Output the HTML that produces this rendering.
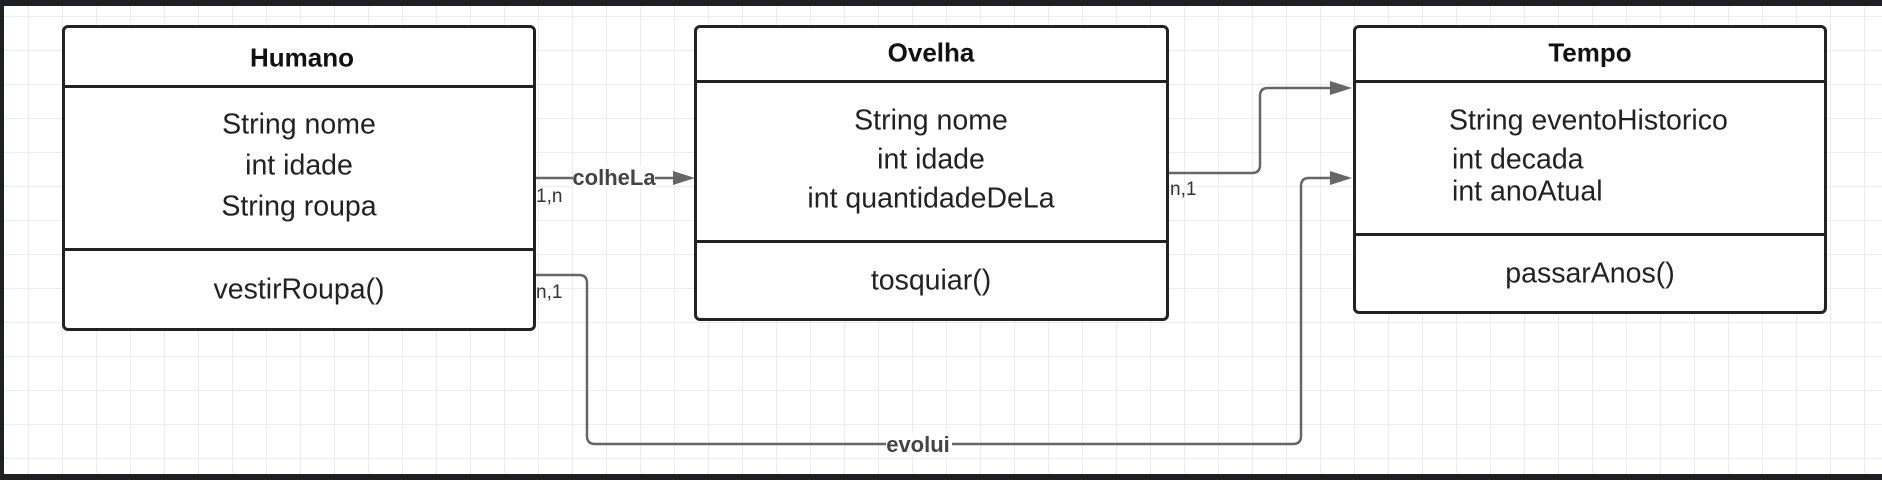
<!DOCTYPE html>
<html><head><meta charset="utf-8"><style>
html,body{margin:0;padding:0;}
body{width:1882px;height:480px;overflow:hidden;background:#1f2023;position:relative;font-family:"Liberation Sans",sans-serif;}
.canvas{position:absolute;left:4px;top:6px;width:1878px;height:468px;background-color:#fff;
background-image:linear-gradient(#ececec 1px,transparent 1px),linear-gradient(90deg,#ececec 1px,transparent 1px);
background-size:34px 34px;background-position:-10px 10px;}
.box{position:absolute;border:3px solid #222;border-radius:6px;background:#fff;box-sizing:border-box;}
.hl{position:absolute;left:0;right:0;border-top:3px solid #222;}
.t{position:absolute;white-space:nowrap;color:#222;font-size:28.5px;transform:translate(-50%,-50%);}
.b{font-weight:bold;font-size:26px;color:#111;}
.l{transform:translate(0,-50%);}
.s{position:absolute;white-space:nowrap;color:#333;font-size:19px;transform:translate(0,-50%);}
</style></head><body>
<div class="canvas"></div>
<svg width="1882" height="480" style="position:absolute;left:0;top:0">
<g fill="none" stroke="#666" stroke-width="2.5">
<path d="M535 178 H683"/>
<path d="M1168 173 H1252 Q1260 173 1260 165 V96 Q1260 88 1268 88 H1338"/>
<path d="M535 275 H579 Q587 275 587 283 V436 Q587 444 595 444 H1293 Q1301 444 1301 436 V186 Q1301 178 1309 178 H1338"/>
</g>
<g fill="#666">
<polygon points="695,178 673,171 673,185"/>
<polygon points="1352,88 1330,81 1330,95"/>
<polygon points="1352,178 1330,171 1330,185"/>
</g>
<rect x="573" y="166" width="82" height="22" fill="#fff"/>
<rect x="886" y="433" width="66" height="22" fill="#fff"/>
</svg>
<div class="t b" style="left:614px;top:178px;font-size:22px;color:#444">colheLa</div>
<div class="t b" style="left:918px;top:445px;font-size:22px;color:#444">evolui</div>
<div class="s" style="left:536px;top:197px">1,n</div>
<div class="s" style="left:536px;top:293px">n,1</div>
<div class="s" style="left:1170px;top:190px">n,1</div>

<div class="box" style="left:62px;top:25px;width:474px;height:306px">
<div class="hl" style="top:57px"></div><div class="hl" style="top:220px"></div></div>
<div class="t b" style="left:302px;top:58px">Humano</div>
<div class="t" style="left:299px;top:125px">String nome</div>
<div class="t" style="left:299px;top:166px">int idade</div>
<div class="t" style="left:299px;top:207px">String roupa</div>
<div class="t" style="left:299px;top:290px">vestirRoupa()</div>

<div class="box" style="left:694px;top:25px;width:475px;height:296px">
<div class="hl" style="top:52px"></div><div class="hl" style="top:212px"></div></div>
<div class="t b" style="left:931px;top:53px">Ovelha</div>
<div class="t" style="left:931px;top:121px">String nome</div>
<div class="t" style="left:931px;top:160px">int idade</div>
<div class="t" style="left:931px;top:199px">int quantidadeDeLa</div>
<div class="t" style="left:931px;top:281px">tosquiar()</div>

<div class="box" style="left:1353px;top:25px;width:474px;height:289px">
<div class="hl" style="top:52px"></div><div class="hl" style="top:205px"></div></div>
<div class="t b" style="left:1590px;top:53px">Tempo</div>
<div class="t l" style="left:1449px;top:121px">String eventoHistorico</div>
<div class="t l" style="left:1452px;top:160px">int decada</div>
<div class="t l" style="left:1452px;top:192px">int anoAtual</div>
<div class="t" style="left:1590px;top:274px">passarAnos()</div>
</body></html>
